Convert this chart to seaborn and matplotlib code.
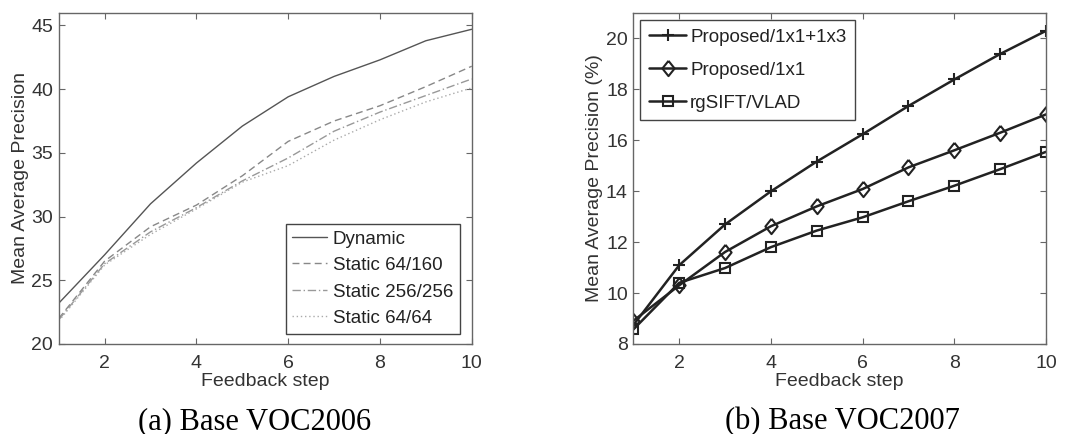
import numpy as np
import pandas as pd
import seaborn as sns
import matplotlib.pyplot as plt

# --- DATA ---
steps = [1, 2, 3, 4, 5, 6, 7, 8, 9, 10]

# (a) Base VOC2006
dynamic = [23.2, 27.0, 31.0, 34.2, 37.1, 39.4, 41.0, 42.3, 43.8, 44.7]
static_64_160 = [22.0, 26.5, 29.2, 30.9, 33.2, 35.9, 37.5, 38.7, 40.2, 41.8]
static_256_256 = [21.9, 26.3, 28.8, 30.7, 32.8, 34.6, 36.7, 38.2, 39.5, 40.8]
static_64_64 = [21.8, 26.2, 28.6, 30.6, 32.7, 34.0, 36.0, 37.6, 39.0, 40.1]

# (b) Base VOC2007
proposed_full = [8.74, 11.09, 12.69, 13.99, 15.16, 16.23, 17.34, 18.38, 19.38, 20.29]
proposed_1x1 = [8.91, 10.30, 11.61, 12.62, 13.40, 14.08, 14.93, 15.60, 16.29, 17.01]
rgsift_vlad = [8.57, 10.40, 10.98, 11.80, 12.45, 12.97, 13.60, 14.21, 14.86, 15.54]

sns.set_theme(style="white")
plt.rcParams['font.family'] = ['Liberation Sans', 'DejaVu Sans']

fig = plt.figure(figsize=(10.68, 4.34), dpi=100)
ax1 = fig.add_axes([0.055, 0.2074, 0.3867, 0.7633])
ax2 = fig.add_axes([0.593, 0.2074, 0.3864, 0.7633])

txt = '#333333'
spine = '#666666'
fs = 14

# --- PANEL (a) ---
left_series = [
    ("Dynamic", dynamic, '-', '#555555'),
    ("Static 64/160", static_64_160, (0, (5, 3)), '#888888'),
    ("Static 256/256", static_256_256, (0, (6, 2, 1, 2)), '#999999'),
    ("Static 64/64", static_64_64, (0, (1, 2)), '#aaaaaa'),
]
for name, vals, ls, col in left_series:
    sns.lineplot(x=steps, y=vals, ax=ax1, color=col, linestyle=ls, linewidth=1.0, label=name)

ax1.set_xlim(1, 10)
ax1.set_ylim(20, 46)
ax1.set_xticks([2, 4, 6, 8, 10])
ax1.set_yticks([20, 25, 30, 35, 40, 45])
ax1.set_xlabel("Feedback step", fontsize=fs, color=txt, labelpad=1)
ax1.set_ylabel("Mean Average Precision", fontsize=fs, color=txt, labelpad=2)
leg1 = ax1.legend(loc='lower right', bbox_to_anchor=(0.98, 0.02), fontsize=13.5, fancybox=False,
                  edgecolor='#444444', framealpha=1, handlelength=1.85, handletextpad=0.3,
                  borderpad=0.35, labelspacing=0.5, borderaxespad=0.2)
for t in leg1.get_texts():
    t.set_color('#222222')

# --- PANEL (b) ---
diamond = [(0, 1), (0.8, 0), (0, -1), (-0.8, 0), (0, 1)]
right_series = [
    ("Proposed/1x1+1x3", proposed_full, '+', 9),
    ("Proposed/1x1", proposed_1x1, diamond, 11),
    ("rgSIFT/VLAD", rgsift_vlad, 's', 7),
]
for name, vals, mk, ms in right_series:
    sns.lineplot(x=steps, y=vals, ax=ax2, color='#222222', linewidth=1.8, marker=mk,
                 markersize=ms, markerfacecolor='none', markeredgecolor='#222222',
                 markeredgewidth=1.5, label=name)

ax2.set_xlim(1, 10)
ax2.set_ylim(8, 21)
ax2.set_xticks([2, 4, 6, 8, 10])
ax2.set_yticks([8, 10, 12, 14, 16, 18, 20])
ax2.set_xlabel("Feedback step", fontsize=fs, color=txt, labelpad=1)
ax2.set_ylabel("Mean Average Precision (%)", fontsize=fs, color=txt, labelpad=2)
leg2 = ax2.legend(loc='upper left', bbox_to_anchor=(0.017, 0.978), fontsize=13.5, fancybox=False,
                  edgecolor='#444444', framealpha=1, handlelength=2.0, handletextpad=0.2,
                  borderpad=0.45, labelspacing=0.85, borderaxespad=0.0)
for t in leg2.get_texts():
    t.set_color('#222222')

for ax in (ax1, ax2):
    for s in ax.spines.values():
        s.set_color(spine)
        s.set_linewidth(1.0)
    ax.tick_params(direction='in', length=4, width=0.8, color=spine, labelsize=fs,
                   labelcolor=txt, top=True, right=True, bottom=True, left=True, pad=4)
    ax.tick_params(axis='x', pad=8)
    ax.grid(False)

# captions
fig.text(0.2385, 0.012, "(a) Base VOC2006", ha='center', va='baseline',
         fontsize=22, family='Liberation Serif', color='black')
fig.text(0.7885, 0.012, "(b) Base VOC2007", ha='center', va='baseline',
         fontsize=22, family='Liberation Serif', color='black')

fig.savefig("out.png", dpi=100)
